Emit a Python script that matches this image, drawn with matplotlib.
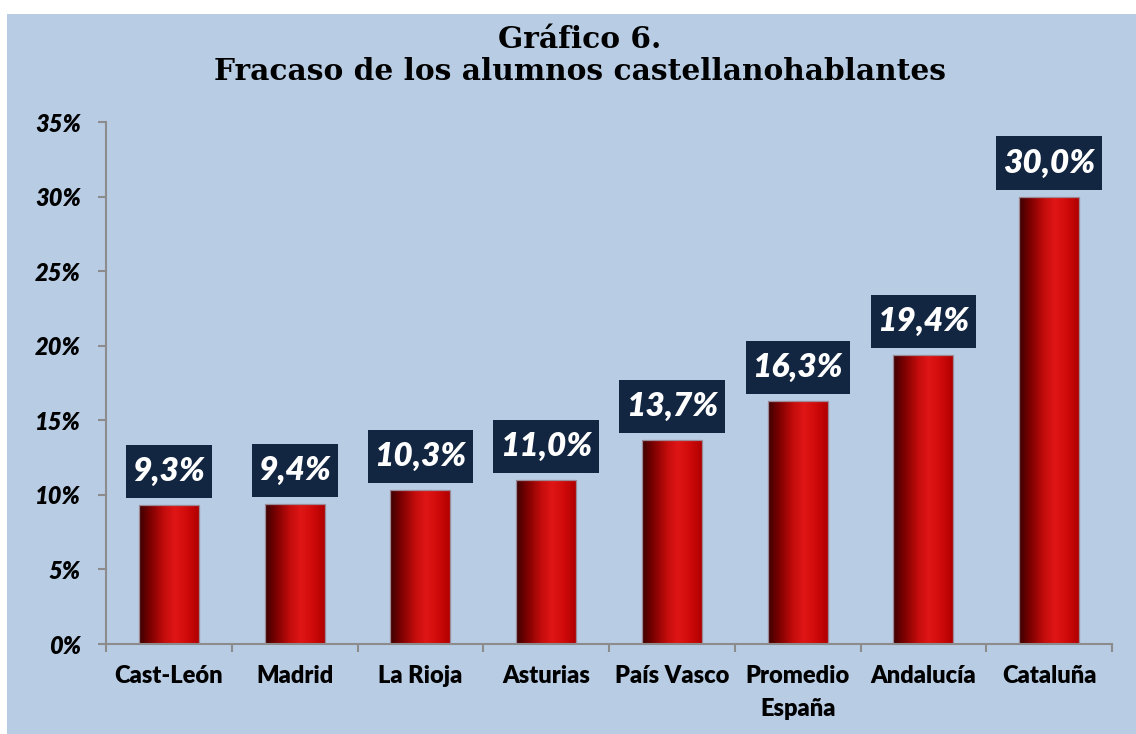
import matplotlib
matplotlib.use("Agg")
import matplotlib.pyplot as plt
import numpy as np
from matplotlib.colors import LinearSegmentedColormap
from matplotlib.patches import Rectangle
from matplotlib.path import Path

categories = ["Cast-León", "Madrid", "La Rioja", "Asturias", "País Vasco",
              "Promedio\nEspaña", "Andalucía", "Cataluña"]
values = [9.3, 9.4, 10.3, 11.0, 13.7, 16.3, 19.4, 30.0]
value_labels = ["9,3%", "9,4%", "10,3%", "11,0%", "13,7%", "16,3%", "19,4%", "30,0%"]
yticks = [0, 5, 10, 15, 20, 25, 30, 35]
ytick_labels = ["0%", "5%", "10%", "15%", "20%", "25%", "30%", "35%"]
title_lines = ["Gráfico 6.", "Fracaso de los alumnos castellanohablantes"]

W, H = 1136, 734
fig = plt.figure(figsize=(W / 100, H / 100), dpi=100)
fig.patch.set_facecolor("white")
bg = "#b8cce4"
fig.patches.append(Rectangle((7 / W, 0), 1 - 7 / W, (H - 14) / H,
                             transform=fig.transFigure, facecolor=bg,
                             edgecolor="none", zorder=-5))

ax = fig.add_axes([106 / W, 90 / H, (1112 - 106) / W, (644 - 122) / H])
ax.set_zorder(2)
ax.set_facecolor("none")
n = len(categories)
x = np.arange(n)

cmap = LinearSegmentedColormap.from_list("cyl", [
    (0.0, "#3c0000"), (0.18, "#7a0000"), (0.42, "#c40c0c"),
    (0.6, "#e01616"), (0.8, "#d00a0a"), (1.0, "#b00000")])
grad = np.linspace(0, 1, 256).reshape(1, -1)

bars = ax.bar(x, values, width=0.477, color="none", edgecolor="#9c8a96",
              linewidth=0.9, zorder=3)
for b in bars:
    x0, w, h = b.get_x(), b.get_width(), b.get_height()
    im = ax.imshow(grad, cmap=cmap, extent=[x0, x0 + w, 0, h], aspect="auto",
                   zorder=2, interpolation="bilinear")
    im.set_clip_path(b)
ax.set_xlim(-0.5, n - 0.5)
ax.set_ylim(0, 35)


def label_box(x0, y0, width, height, mutation_size):
    px = 0.2 * mutation_size
    py = 0.36 * mutation_size
    x0, y0 = x0 - px, y0 - py
    x1, y1 = x0 + width + 2 * px, y0 + height + 2 * py
    return Path([(x0, y0), (x1, y0), (x1, y1), (x0, y1), (x0, y0)],
                closed=True)


for xi, v, lab in zip(x, values, value_labels):
    ax.annotate(lab, xy=(xi, v), xytext=(0, 13.7), textcoords="offset points",
                ha="center", va="bottom", fontsize=24, fontweight="heavy",
                fontstyle="italic", family="Lato", color="white", zorder=5,
                bbox=dict(boxstyle=label_box, facecolor="#132641",
                          edgecolor="none"))

for s in ["top", "right"]:
    ax.spines[s].set_visible(False)
for s in ["left", "bottom"]:
    ax.spines[s].set_color("#8c8c8c")
    ax.spines[s].set_linewidth(1.5)

ax.set_yticks(yticks)
ax.set_yticklabels(ytick_labels, fontsize=17, fontweight="heavy",
                   fontstyle="italic", family="Lato")
ax.tick_params(axis="y", length=6, width=1.5, color="#8c8c8c", pad=12)

ax.set_xticks(x)
ax.set_xticklabels(categories, fontsize=17, fontweight="heavy", family="Lato",
                   linespacing=1.6)
ax.tick_params(axis="x", which="major", length=0, pad=15)
ax.set_xticks(np.arange(n + 1) - 0.5, minor=True)
ax.tick_params(axis="x", which="minor", length=6, width=1.5, color="#8c8c8c")

fig.text(580 / W, 1 - 40 / H, title_lines[0], ha="center", va="center",
         fontsize=21.3, fontweight="bold", family="DejaVu Serif")
fig.text(580 / W, 1 - 72 / H, title_lines[1], ha="center", va="center",
         fontsize=21.3, fontweight="bold", family="DejaVu Serif")

fig.savefig("out.png", dpi=100, facecolor=fig.get_facecolor())
